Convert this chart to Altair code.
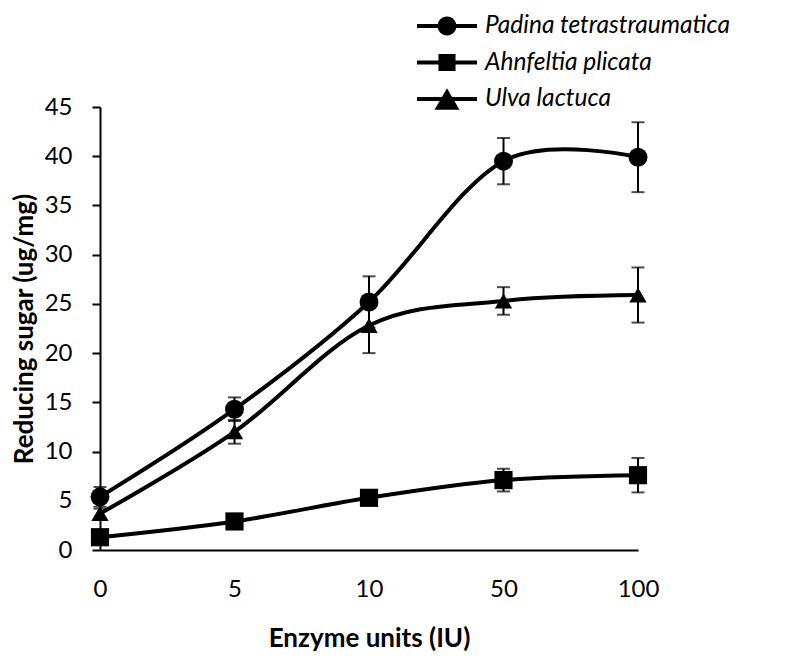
import altair as alt
import pandas as pd

units = ["0", "5", "10", "50", "100"]
species = ["Padina tetrastraumatica", "Ahnfeltia plicata", "Ulva lactuca"]
padina = [5.4, 14.3, 25.2, 39.5, 39.9]
padina_err = [1.0, 1.2, 2.6, 2.35, 3.55]
ahnfeltia = [1.3, 2.9, 5.3, 7.1, 7.6]
ahnfeltia_err = [0.3, 0.4, 0.5, 1.15, 1.75]
ulva = [3.7, 12.0, 22.8, 25.3, 25.9]
ulva_err = [0.5, 1.2, 2.8, 1.4, 2.8]

rows = []
for name, vals, errs in [(species[0], padina, padina_err),
                         (species[1], ahnfeltia, ahnfeltia_err),
                         (species[2], ulva, ulva_err)]:
    for u, v, e in zip(units, vals, errs):
        rows.append({"units": u, "species": name, "value": v,
                     "lo": v - e, "hi": v + e})
df = pd.DataFrame(rows)

FONT = "Lato"
x_enc = alt.X("units:O", sort=units,
              scale=alt.Scale(type="point", padding=0),
              axis=alt.Axis(title="Enzyme units (IU)", labelAngle=0,
                            ticks=False, labelPadding=46,
                            labelBaseline="alphabetic",
                            titleY=96, titleBaseline="alphabetic"))
y_scale = alt.Scale(domain=[0, 45], nice=False)
y_enc = alt.Y("value:Q", scale=y_scale,
              axis=alt.Axis(title="Reducing sugar (ug/mg)",
                            values=list(range(0, 50, 5)), grid=False,
                            tickSize=8, tickWidth=2, labelPadding=20,
                            titleX=-76, titleY=221.5, titleAngle=-90,
                            titleBaseline="middle", titleAlign="center"))

base = alt.Chart(df)

lines = base.mark_line(interpolate="cardinal", strokeWidth=4, color="black").encode(
    x=x_enc, y=y_enc, detail="species:N")

err_rules = base.mark_rule(strokeWidth=2, color="black").encode(
    x=x_enc, y=alt.Y("lo:Q", scale=y_scale), y2="hi:Q")
err_top = base.mark_tick(orient="horizontal", size=13, thickness=2, color="black").encode(
    x=x_enc, y=alt.Y("hi:Q", scale=y_scale))
err_bot = base.mark_tick(orient="horizontal", size=13, thickness=2, color="black").encode(
    x=x_enc, y=alt.Y("lo:Q", scale=y_scale))

points = base.mark_point(filled=True, opacity=1, color="black").encode(
    x=x_enc, y=y_enc,
    shape=alt.Shape("species:N",
                    scale=alt.Scale(domain=species,
                                    range=["circle", "square", "triangle-up"]),
                    legend=None),
    size=alt.Size("species:N",
                  scale=alt.Scale(domain=species, range=[360, 300, 600]),
                  legend=None))

# legend glyphs: a filled bar (the line) plus the filled marker, all clockwise
legend_paths = [
    "M-2,-0.13H2V0.13H-2ZM0.63,0A0.63,0.63,0,1,1,-0.63,0A0.63,0.63,0,1,1,0.63,0Z",
    "M-2,-0.13H2V0.13H-2ZM-0.57,-0.57H0.57V0.57H-0.57Z",
    "M-2,-0.13H2V0.13H-2ZM0,-0.72L0.83,0.72L-0.83,0.72Z",
]

legend_layer = base.transform_filter("false").mark_point(
    filled=True, color="black", opacity=1
).encode(
    x=x_enc, y=y_enc,
    shape=alt.Shape("species:N",
                    scale=alt.Scale(domain=species, range=legend_paths),
                    legend=alt.Legend(title=None, orient="none",
                                      legendX=332, legendY=-96,
                                      symbolSize=900, symbolStrokeWidth=0,
                                      symbolFillColor="black",
                                      symbolOpacity=1,
                                      labelFont=FONT, labelFontSize=24.5,
                                      labelFontStyle="italic",
                                      labelColor="black",
                                      labelOffset=23, rowPadding=9.5,
                                      padding=0, labelLimit=400)))

chart = alt.layer(lines, err_rules, err_top, err_bot, points, legend_layer).resolve_scale(
    shape="independent", size="independent"
).properties(
    width=538, height=443,
    autosize=alt.AutoSizeParams(type="none"),
    padding={"left": 92, "top": 99, "right": 140, "bottom": 103},
).configure_view(stroke=None).configure_axis(
    domainColor="black", domainWidth=2, tickColor="black",
    labelFont=FONT, labelFontSize=24, labelColor="black",
    titleFont=FONT, titleFontSize=26, titleFontWeight="bold", titleColor="black",
)

chart.save("out.html", embed_options={"renderer": "svg", "actions": False})
